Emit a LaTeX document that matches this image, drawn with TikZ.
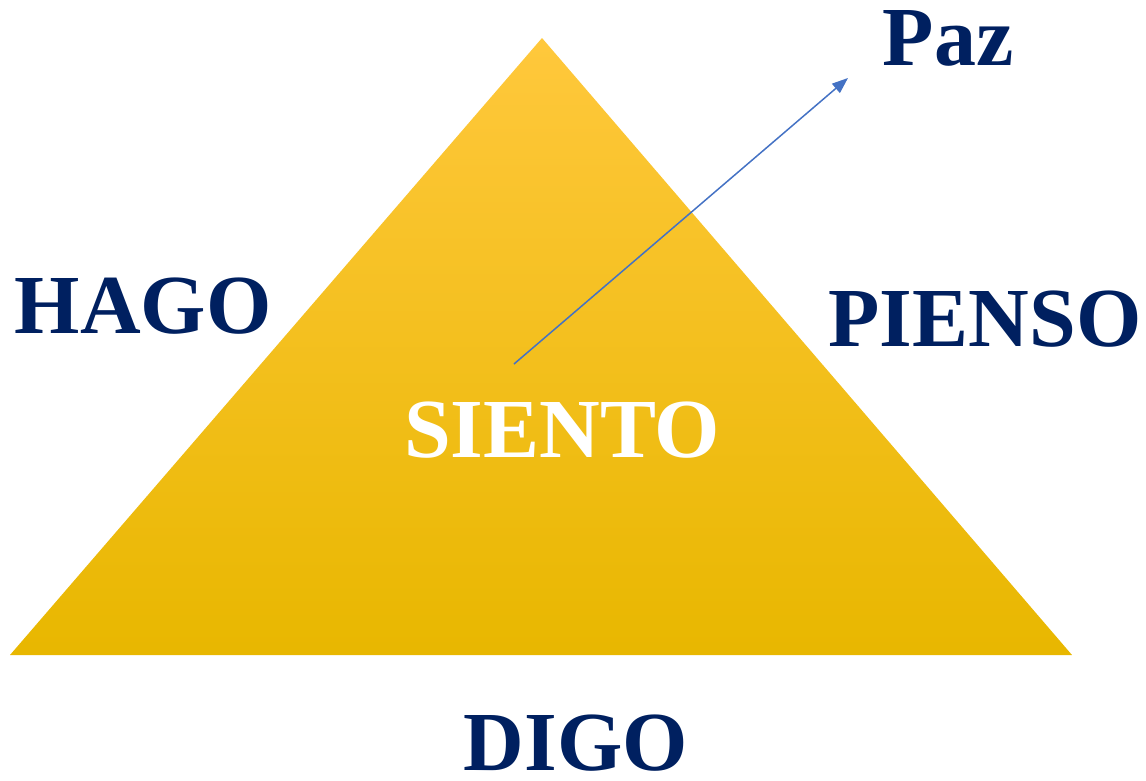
\documentclass[tikz,border=0pt]{standalone}
\usepackage{fontspec}
\setmainfont{Liberation Serif}
\usepackage{tikz}
\usetikzlibrary{arrows.meta}
\definecolor{azul}{HTML}{002060}
\definecolor{flecha}{HTML}{4472C4}
\definecolor{oroA}{HTML}{FFC83C}
\definecolor{oroB}{HTML}{FFC800}
\definecolor{oroC}{HTML}{E8B700}

\begin{document}
\begin{tikzpicture}[x=1pt, y=-1pt, >={Triangle[length=16pt,width=12pt]}]
    \useasboundingbox (0,0) rectangle (1146,780);
    \tikzset{palabra/.style={anchor=base, inner sep=0pt, font=\fontsize{84}{84}\selectfont\bfseries, text=azul}}

    % triángulo
    \shade[top color=oroA, middle color=oroB, bottom color=oroC]
        (542,38) -- (1072,655) -- (10,655) -- cycle;

    % palabras
    \node[palabra] (hago) at (143,333) {HAGO};
    \node[palabra] (pienso) at (985,346) {PIENSO};
    \node[palabra, text=white] (siento) at (562,457) {SIENTO};
    \node[palabra] (digo) at (576,770) {DIGO};
    \node[palabra] (paz) at (948,65) {Paz};

    % flecha
    \coordinate (ini) at (514,364);
    \coordinate (fin) at (848,78);
    \draw[->, flecha, line width=1.5pt] (ini) -- (fin);
\end{tikzpicture}
\end{document}
